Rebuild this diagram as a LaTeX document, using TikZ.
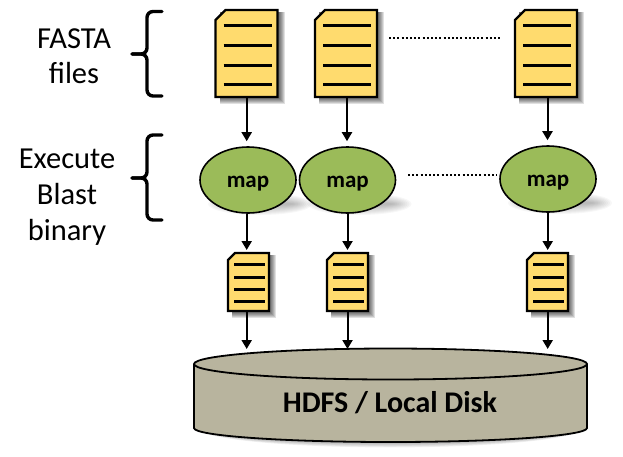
\documentclass[tikz,border=0pt]{standalone}
\usepackage{fontspec}
\setmainfont{Carlito}
\usetikzlibrary{arrows.meta,shapes.geometric}
\definecolor{docfill}{HTML}{FFDB6E}
\definecolor{mapfill}{HTML}{9BBB59}
\definecolor{diskfill}{HTML}{B8B49E}
\tikzset{
  arr/.style={line width=2pt,-{Triangle[length=9pt,width=10pt]}},
  docedge/.style={draw=black,line width=2.2pt,fill=docfill,line join=miter},
  docline/.style={line width=3pt,black},
  slot/.style={inner sep=0pt,outer sep=0pt,minimum width=#1,draw=none},
  label/.style={font=\fontsize{30.5}{32}\selectfont,inner sep=0pt,anchor=base},
  mapnode/.style={ellipse,draw=black,line width=1.6pt,fill=mapfill,minimum width=96pt,minimum height=66pt,inner sep=0pt,font=\fontsize{23}{25}\selectfont\bfseries},
  brace/.style={line width=3.4pt,line cap=round,black,rounded corners=6pt},
  dots/.style={line width=2pt,dash pattern=on 2pt off 2.2pt},
}
% #1 left, #2 top, #3 width, #4 height, #5 corner, #6 inset left, #7 inset right, #8 list of line ys
\newcommand{\docshape}[8]{%
  \foreach \w in {11,9,7,5,3,1}{
    \fill[black,opacity=0.12] (#1+4,#2+2) rectangle (#1+#3+\w*0.5+1.5,#2+#4+\w*0.5+1.5);
  }
  \path[docedge] (#1+#5,#2) -- (#1+#3,#2) -- (#1+#3,#2+#4) -- (#1,#2+#4) -- (#1,#2+#5) -- cycle;
  \foreach \yy in {#8}{ \draw[docline] (#1+#6,\yy) -- (#1+#3-#7,\yy); }
}
\newcommand{\mapshadow}[2]{%
  \foreach \k in {1,...,10}{
    \fill[black,opacity=0.03] (#1+12,#2+24) ellipse ({54-\k*2} and {12-\k*1});
  }
}
\newcommand{\maptext}{\raisebox{-7.5pt}[0pt][0pt]{map}}
\begin{document}
\begin{tikzpicture}[x=1pt,y=-1pt]
\useasboundingbox (0,0) rectangle (623,456);
% large documents
\docshape{215.5}{10}{62}{87}{10}{8}{6}{25,45,65,84}
\docshape{315}{10}{62}{87}{10}{8}{6}{25,45,65,84}
\docshape{515}{10}{62}{87}{10}{8}{6}{25,45,65,84}
\node[slot=1pt,minimum height=87pt] (d1) at (246.7,53.5) {};
\node[slot=1pt,minimum height=87pt] (d2) at (347,53.5) {};
\node[slot=1pt,minimum height=87pt] (d3) at (547.5,53.5) {};
% map shadows and nodes
\mapshadow{248}{180}
\mapshadow{347.5}{180}
\mapshadow{548}{179}
\node[mapnode] (m1) at (248,180) {\maptext};
\node[mapnode] (m2) at (347.5,180) {\maptext};
\node[mapnode] (m3) at (548,179) {\maptext};
% small documents
\docshape{228}{253}{41}{58}{7}{6}{4}{264,277,289.5,301.5}
\docshape{327}{253}{41}{58}{7}{6}{4}{264,277,289.5,301.5}
\docshape{527}{253}{41}{58}{7}{6}{4}{264,277,289.5,301.5}
\node[slot=1pt,minimum height=58pt] (s1) at (246.7,282) {};
\node[slot=1pt,minimum height=58pt] (s2) at (347.5,282) {};
\node[slot=1pt,minimum height=58pt] (s3) at (547.7,282) {};
% disk
\foreach \k in {1,...,6}{
  \fill[black,opacity=0.06] (198,425) -- (198,428) arc[start angle=180,end angle=0,x radius=192,y radius={14+\k*0.9}] -- (582,425) -- cycle;
}
\path[draw=black,line width=1.8pt,fill=diskfill] (194,364) -- (194,428) arc[start angle=180,end angle=0,x radius=196.5,y radius=14] -- (587,364) arc[start angle=0,end angle=-180,x radius=196.5,y radius=15.5] -- cycle;
\draw[line width=1.8pt] (194,364) arc[start angle=180,end angle=0,x radius=196.5,y radius=15.5];
\node[font=\fontsize{30}{32}\selectfont\bfseries,inner sep=0pt,anchor=base] (hdfs) at (390,412) {HDFS / Local Disk};
\node[slot=392pt,minimum height=0pt] (disk) at (390.5,349) {};
% arrows
\draw[arr,shorten >=5pt] (d1.south) -- (d1.south |- m1.north);
\draw[arr,shorten >=5pt] (d2.south) -- (d2.south |- m2.north);
\draw[arr,shorten >=5pt] (d3.south) -- (d3.south |- m3.north);
\draw[arr,shorten >=3pt] (s1.north |- m1.south) -- (s1.north);
\draw[arr,shorten >=3pt] (s2.north |- m2.south) -- (s2.north);
\draw[arr,shorten >=3pt] (s3.north |- m3.south) -- (s3.north);
\draw[arr] (s1.south) -- (s1.south |- disk.north);
\draw[arr] (s2.south) -- (s2.south |- disk.north);
\draw[arr] (s3.south) -- (s3.south |- disk.north);
% dotted leaders
\coordinate (a1) at (389,38); \coordinate (a2) at (502,38);
\coordinate (b1) at (408,175); \coordinate (b2) at (497,175);
\draw[dots] (a1) -- (a2);
\draw[dots] (b1) -- (b2);
% braces
\draw[brace] (162,11.5) -- (147,11.5) -- (147,54) -- (132,54);
\draw[brace] (132,54) -- (147,54) -- (147,96) -- (162,96);
\draw[brace] (162,135) -- (147,135) -- (147,178) -- (132,178);
\draw[brace] (132,178) -- (147,178) -- (147,220) -- (162,220);
% labels
\node[label] (t1) at (74,48) {FASTA};
\node[label] (t2) at (74,83) {files};
\node[label] (t3) at (67,168) {Execute};
\node[label] (t4) at (67,204) {Blast};
\node[label] (t5) at (67,240) {binary};
\end{tikzpicture}
\end{document}
